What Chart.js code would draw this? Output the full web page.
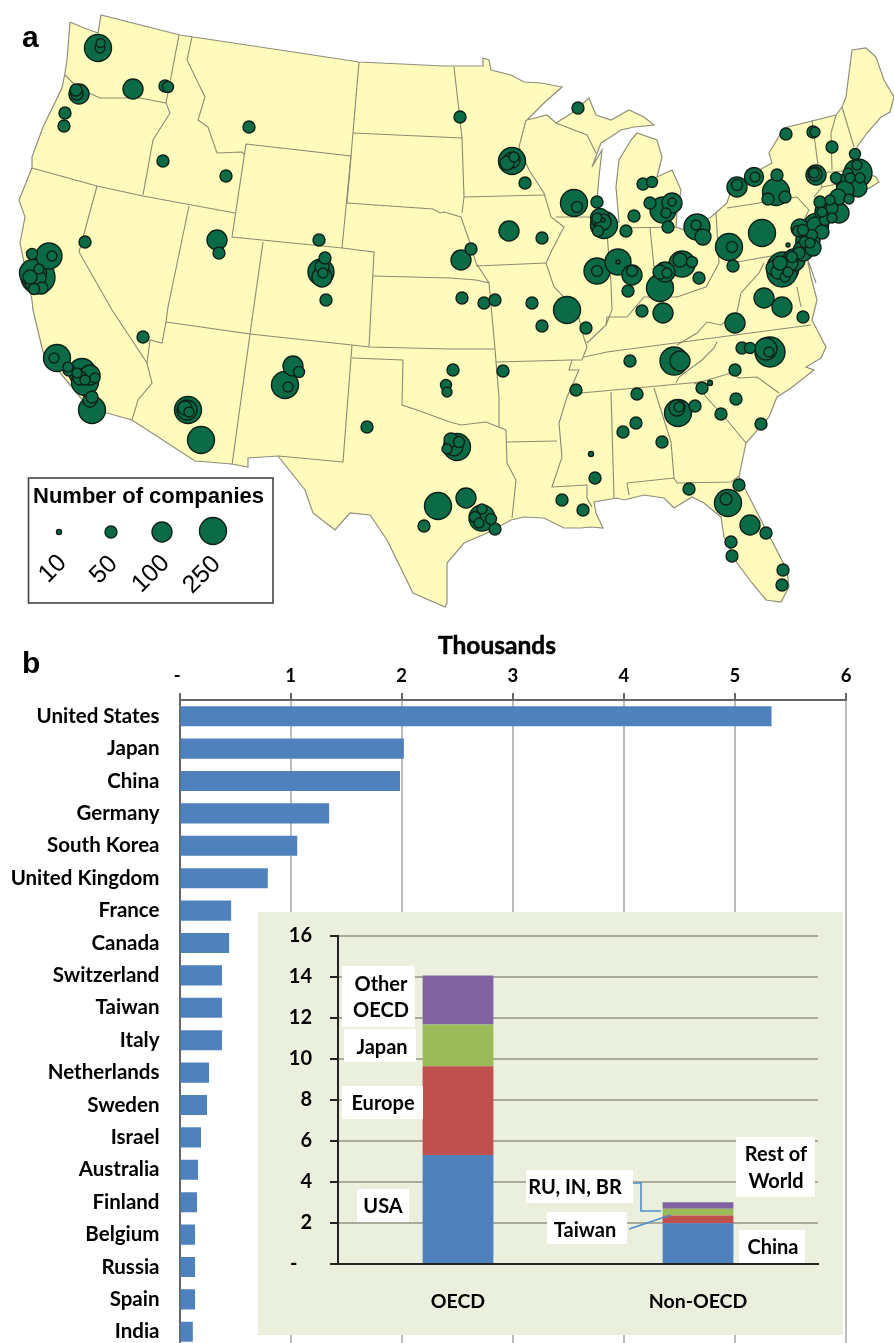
<!DOCTYPE html>
<html><head><meta charset="utf-8">
<script src="https://cdn.jsdelivr.net/npm/chart.js@4"></script>
<style>
html,body{margin:0;padding:0;background:#fff;width:894px;height:1343px;overflow:hidden}
#wrap{position:relative;width:894px;height:1343px;overflow:hidden}
canvas{position:absolute;display:block;filter:blur(0.4px)}
</style></head><body><div id="wrap">
<canvas id="map" width="894" height="620" style="left:0;top:0"></canvas>
<canvas id="bars" width="894" height="740" style="left:0;top:620px"></canvas>
<canvas id="inset" width="585" height="423" style="left:258px;top:912px"></canvas>
</div>
<script>
// ---- panel a: map outline, in map units
const usOutline=[[70,22],[84,28],[98,33],[101,15],[180,35],[300,53],[359,62],[444,66],[483,66],[483,58],[489,60],[491,70],[511,75],[524,82],[541,83],[562,87],[544,103],[527,120],[547,115],[556,123],[572,113],[589,98],[591,103],[596,115],[611,120],[629,110],[644,117],[654,125],[634,127],[621,130],[609,138],[601,143],[592,167],[602,150],[599,177],[597,200],[600,217],[607,226],[619,222],[616,187],[619,160],[631,140],[637,133],[657,140],[662,157],[657,177],[672,170],[681,190],[677,213],[676,227],[685,230],[711,217],[727,203],[731,190],[745,178],[772,163],[769,153],[784,128],[836,115],[842,107],[846,97],[852,50],[866,48],[876,57],[884,80],[894,97],[890,112],[881,117],[867,133],[857,147],[856,157],[861,163],[864,172],[876,177],[879,182],[871,187],[854,197],[831,207],[821,220],[814,240],[807,257],[811,277],[817,300],[812,320],[826,347],[821,358],[806,367],[814,370],[791,388],[777,397],[769,417],[746,443],[741,467],[739,477],[761,520],[787,570],[789,587],[781,602],[766,600],[752,583],[737,563],[724,537],[721,517],[704,503],[692,497],[674,508],[664,498],[644,495],[624,500],[617,498],[594,502],[596,513],[603,528],[591,527],[581,528],[564,528],[544,518],[524,517],[511,520],[487,533],[464,543],[447,563],[447,603],[445,607],[413,593],[387,540],[370,515],[350,513],[335,530],[313,513],[305,490],[278,456],[248,458],[248,467],[232,464],[195,461],[132,420],[107,413],[93,412],[80,397],[43,352],[33,310],[32,300],[20,243],[25,217],[19,200],[32,168],[32,157],[43,127],[62,88],[65,73],[67,60],[70,22]];
const stateLines=[
[[65,75],[78,88],[100,98],[140,98],[166,103]],
[[179,35],[166,103],[170,113],[153,140],[143,195]],
[[192,37],[187,60],[205,97],[198,120],[208,127],[217,153],[242,152],[245,155]],
[[32,168],[97,186],[143,196],[235,213]],
[[97,186],[79,252],[112,310],[147,363],[152,383],[138,400],[132,420]],
[[189,206],[168,307],[166,322],[162,343],[150,340],[147,363]],
[[166,322],[250,334],[232,465]],
[[246,144],[351,156],[342,248],[232,237],[246,144]],
[[263,242],[250,334]],
[[342,248],[374,252],[369,347]],
[[250,334],[352,345],[369,347],[450,349],[495,349]],
[[352,345],[343,462],[278,456]],
[[352,358],[403,360],[402,405],[417,410],[450,422],[461,425],[486,422],[506,430]],
[[373,276],[450,278],[476,280],[489,283],[495,349],[496,362],[499,397],[499,427]],
[[347,203],[433,209],[440,213],[444,212],[461,217],[469,240],[476,263],[489,283]],
[[353,133],[462,138]],
[[359,62],[351,156],[347,203]],
[[454,67],[462,138],[464,197],[462,213]],
[[464,197],[544,195]],
[[526,120],[519,147],[529,170],[544,193],[551,217],[564,227],[552,250],[546,263],[554,287],[577,310],[581,327],[584,338],[587,347],[582,360],[572,360],[569,370],[579,370],[567,397],[559,423],[562,457],[552,487],[587,485],[587,498],[592,507]],
[[476,266],[546,263]],
[[556,217],[599,217]],
[[556,123],[587,135],[596,153]],
[[507,442],[557,441]],
[[506,430],[507,463],[516,480],[512,518]],
[[496,362],[572,360]],
[[607,233],[611,283],[612,310],[606,325]],
[[587,343],[606,325],[607,317],[627,317],[644,297],[677,297],[697,290],[706,287],[719,263],[716,213]],
[[650,228],[654,267]],
[[621,228],[676,227]],
[[727,208],[797,197],[809,210],[797,233],[794,252],[737,262]],
[[812,120],[816,150],[819,173],[822,187],[814,197]],
[[836,115],[831,133],[832,170]],
[[842,107],[854,147]],
[[819,173],[854,170]],
[[822,187],[847,182]],
[[677,345],[697,333],[707,322],[721,325],[737,312],[741,293],[759,273],[764,263]],
[[807,257],[816,283]],
[[797,287],[801,307]],
[[584,357],[607,352],[811,325]],
[[581,393],[701,382]],
[[676,383],[679,377],[702,360],[714,348],[717,342]],
[[694,384],[731,373],[739,378],[757,377],[779,393]],
[[697,382],[706,397],[727,420],[746,443]],
[[611,392],[614,498]],
[[654,388],[671,442],[674,478]],
[[627,483],[674,478],[677,483],[731,482],[739,476]],
[[627,483],[629,495]]
];
// ---- panel a: company clusters [x, y, radius]
const sitesWest=[[98,48,13.5],[100,48,5],[100.7,43,4.5],[79,94,10],[77,94,6],[76,90,6],[133,89,10],[165,86,6],[168,87,5.5],[65,113,6],[64,126,6],[163,161,6],[226,176,6],[249,127,6],[217,240,10],[219,253,6],[85,242,6],[319,240,6],[325,258,6],[321,272,13],[322,277,10],[323,273,5],[322,267,7],[326,300,6],
[49,256,13],[52,256,5],[32,254,5.5],[33,273,13.5],[38,277,17],[39,269,5],[34,289,5.5],[30,277,7],[33,283,8],[42,288,6],[38,278,8],
[143,337,6],[57,358,13.5],[54,358,5],[68,367,5],[69,370,6],[82,372,13.5],[85,382,13.5],[77,373,5],[95,378,5],[85,380,5],[90,375,10],[80,378,7],[92,410,13.5],[92,397,6],[90,400,7],[188,410,13.5],[185,408,7],[189,412,5],[187,410,10],[201,440,13.5],[285,385,13.5],[288,387,5],[293,366,10],[299,372,5.5],[367,427,6],[438,506,13.5],[424,526,6]];
const sitesMidwest=[[460,117,6],[578,108,6],[512,161,13.5],[507,163,7],[514,157,5],[512,160,8],[525,183,6],[574,203,13.5],[577,207,5.5],[597,202,6],[509,231,10],[542,238,6],[471,249,6],[461,260,10],[604,225,13.5],[600,218,9.5],[597,218,5],[603,220,2],[603,222,8],[598,231,5.5],[626,231,6],[634,216,6],[643,184,6],[652,182,5.5],[650,203,6],[663,210,13],[672,203,10],[672,202,4],[666,213,5],[668,227,6],[697,227,13],[696,225,5],[703,237,8],[597,271,13],[597,271,5.5],[618,262,13],[618,262,2],[632,275,10],[632,271,5.5],[628,291,6],[660,288,13.5],[665,272,10],[667,273,5],[660,272,7],[682,264,13],[692,262,5.5],[680,260,7],[699,278,6],[462,298,6],[484,303,6],[495,300,6],[532,303,6],[567,310,13.5],[542,326,6],[586,328,6],[642,311,6],[663,313,10],[453,370,6],[503,371,6],[446,385,5.5],[447,392,5]];
const sitesNortheast=[[737,187,10],[737,185,5.5],[754,177,9.5],[755,177,5],[777,175,6],[776,192,13.5],[768,199,6],[785,197,6],[762,233,13.5],[729,247,13.5],[732,247,5.5],[733,266,6],[786,134,6],[813,132,6],[815,132,5],[832,147,6],[816,175,10],[814,173,5],[815,174,7],
[858,173,14],[845,183,9],[855,154,5.5],[857,165,5],[848,173,5],[860,178,5],[850,178,5],[836,178,5.5],[858,188,9],[845,190,9],[838,197,8],[849,199,5],[830,200,5],[839,213,10],[820,202,6],[822,212,5],[832,208,6],[825,220,5.5],[832,218,5],[815,225,8],[800,228,9],[798,231,5.5],[822,232,7],[812,235,5.5],[803,230,5.5],[805,242,5.5],[813,248,8],[799,253,6],[810,243,5],[792,257,5.5],[788,245,2],[783,268,16],[782,272,15],[785,267,8],[773,268,7],[790,263,8],[778,272,7],[785,277,5],[780,263,7],[788,272,5],
[816,226,12.5],[808,240,12],[826,212,11],[803,251,10],[794,260,11]];
const sitesSouth=[[764,298,10],[782,307,10],[735,323,10],[803,317,6],[576,390,6],[630,361,6],[674,361,14],[680,361,10],[742,348,6],[750,348,5.5],[770,352,15],[766,349,11],[769,352,5],[735,370,6],[702,388,6],[710,383,2.5],[736,399,6],[721,414,6],[761,424,6],[637,394,6],[636,423,6],[623,432,6],[662,442,6],[678,413,13.5],[677,408,8],[679,407,5],[695,406,6],[591,454,2.5],[595,478,6],[562,500,6],[583,510,6],[689,489,6],[739,485,6],[728,503,13.5],[726,499,6],[750,525,10],[766,533,6],[731,542,6],[732,556,6],[783,570,6],[782,585,6],[457,447,13.5],[451,440,7],[459,442,5.5],[447,449,5],[454,447,9],[466,498,10],[482,518,13],[482,509,5],[475,517,5.5],[491,519,5.5],[495,529,6],[479,523,5]];
const legendCompanies=['10','50','100','250'];
const legendSites=[[59,532,2.5],[111,532,6],[162,532,10],[213,531,13.5]];
// ---- panel b
const countries=['United States','Japan','China','Germany','South Korea','United Kingdom','France','Canada','Switzerland','Taiwan','Italy','Netherlands','Sweden','Israel','Australia','Finland','Belgium','Russia','Spain','India'];
const thousands=[5.33,2.02,1.985,1.347,1.06,0.795,0.465,0.447,0.383,0.383,0.383,0.266,0.248,0.194,0.167,0.158,0.14,0.14,0.14,0.12];
// ---- inset
const groups=['OECD','Non-OECD'];
const seriesFirst=[5.32,1.99];   // USA / China
const seriesSecond=[4.33,0.37];  // Europe / Taiwan
const seriesThird=[2.03,0.33];   // Japan / RU, IN, BR
const seriesFourth=[2.39,0.32];  // Other OECD / Rest of World

const BOLD='"Lato", "Liberation Sans", sans-serif';
const GREEN='#0b6b47', RING='#0e2119';
const pts=a=>a.map(p=>({x:p[0],y:p[1]}));
const bub=a=>a.map(p=>({x:p[0],y:p[1],r:p[2]}));
const allSites=[...sitesWest,...sitesMidwest,...sitesNortheast,...sitesSouth].sort((a,b)=>b[2]-a[2]);
const noPad=s=>{s.paddingTop=0;s.paddingBottom=0;s.paddingLeft=0;s.paddingRight=0;};

const mapText={id:'mapText',afterDraw(c){const g=c.ctx;g.save();
 g.fillStyle='#000';g.textBaseline='alphabetic';
 g.font='bold 30px "Liberation Sans"';g.fillText('a',22,47);
 g.strokeStyle='#444';g.lineWidth=1.6;g.strokeRect(28.5,478,244.5,125);
 g.font='bold 22px "Liberation Sans"';g.fillStyle='#000';g.fillText('Number of companies',33,503);
 g.font='25px "Liberation Sans"';g.textAlign='center';g.textBaseline='middle';
 const at=[[53,569],[104,570],[151,574],[202,575]];
 legendCompanies.forEach((t,i)=>{g.save();g.translate(at[i][0],at[i][1]);g.rotate(-Math.PI/4);g.fillText(t,0,0);g.restore();});
 g.restore();}};

new Chart(document.getElementById('map'),{
 data:{datasets:[
  {type:'bubble',data:bub(allSites),backgroundColor:GREEN,borderColor:RING,borderWidth:1.4,order:0,clip:false},
  {type:'bubble',data:bub(legendSites),backgroundColor:GREEN,borderColor:RING,borderWidth:1.4,order:0,clip:false},
  ...stateLines.map(l=>({type:'scatter',showLine:true,data:pts(l),borderColor:'#8b8b72',borderWidth:1.1,pointRadius:0,fill:false,tension:0,order:1})),
  {type:'scatter',showLine:true,data:pts(usOutline),borderColor:'#8f8f7c',borderWidth:1.2,backgroundColor:'#fffbbc',pointRadius:0,fill:'shape',tension:0,order:2}
 ]},
 options:{responsive:false,animation:false,devicePixelRatio:1,layout:{autoPadding:false,padding:0},
  plugins:{legend:{display:false},tooltip:{enabled:false}},
  scales:{x:{type:'linear',min:0,max:894,display:false},y:{type:'linear',min:0,max:620,reverse:true,display:false}}},
 plugins:[mapText]
});

const barText={id:'barText',afterDraw(c){const g=c.ctx;g.save();g.fillStyle='#000';g.font='bold 30px "Liberation Sans"';g.fillText('b',22,53);
 g.font='bold 24.5px '+BOLD;g.textAlign='center';g.textBaseline='middle';g.strokeStyle='#000';g.lineWidth=0.5;
 g.fillText('Thousands',497,26);g.strokeText('Thousands',497,26);g.restore();}};
new Chart(document.getElementById('bars'),{
 type:'bar',
 data:{labels:countries,datasets:[{data:thousands,backgroundColor:'#4f81bd',barPercentage:0.62,categoryPercentage:1}]},
 options:{indexAxis:'y',responsive:false,animation:false,devicePixelRatio:1,layout:{autoPadding:false,padding:{bottom:12,right:48}},
  plugins:{legend:{display:false},tooltip:{enabled:false}},
  scales:{
   x:{position:'top',min:0,max:6,afterFit(s){s.height=80;noPad(s);},
    ticks:{stepSize:1,autoSkip:false,maxRotation:0,padding:6,color:'#000',font:{family:BOLD,weight:'bold',size:18.5},callback:v=>v===0?'-\u00a0':v},
    grid:{color:'#bdbdbd',lineWidth:2,tickColor:'#666',tickLength:7},border:{color:'#666',width:2}},
   y:{afterFit(s){s.width=179.5;noPad(s);},
    ticks:{autoSkip:false,padding:20,color:'#000',font:{family:BOLD,weight:'bold',size:20.5}},
    grid:{display:false,drawTicks:false},border:{color:'#666',width:2}}}},
 plugins:[barText]
});

const insetLabels={id:'insetLabels',beforeDraw(c){const g=c.ctx;g.save();g.fillStyle='#ebf0de';g.fillRect(0,0,c.width,c.height);g.restore();},
 afterDatasetsDraw(c){const g=c.ctx;g.save();
 const O=(x,y)=>[x-258,y-912];
 const boxes=[[342,966,73,61,['Other','OECD'],[985,1011],381],[344,1029,72,33,['Japan'],[1048],382],[342,1086,81,33,['Europe'],[1104],383],[357,1189,52,33,['USA'],[1207],383],[526,1170,107,33,['RU, IN, BR'],[1188],575],[547,1212,80,32,['Taiwan'],[1231],585],[736,1137,79,60,['Rest of','World'],[1155,1182],776],[739,1230,66,33,['China'],[1248],773]];
 g.font='bold 20px '+BOLD;g.textAlign='center';g.textBaseline='middle';
 boxes.forEach(b=>{const p=O(b[0],b[1]);g.fillStyle='#fff';g.fillRect(p[0],p[1],b[2],b[3]);g.fillStyle='#000';b[4].forEach((t,i)=>{g.fillText(t,b[6]-258,b[5][i]-912);});});
 g.strokeStyle='#4f8fc8';g.lineWidth=1.6;
 g.beginPath();let p=[[633,1183],[641,1183],[641,1211],[661,1211]].map(q=>O(q[0],q[1]));g.moveTo(...p[0]);p.slice(1).forEach(q=>g.lineTo(...q));g.stroke();
 g.beginPath();g.moveTo(...O(629,1229));g.lineTo(...O(671,1215));g.stroke();
 g.restore();}};
new Chart(document.getElementById('inset'),{
 type:'bar',
 data:{labels:groups,datasets:[
  {label:'USA / China',data:seriesFirst,backgroundColor:'#4f81bd'},
  {label:'Europe / Taiwan',data:seriesSecond,backgroundColor:'#c0504d'},
  {label:'Japan / RU, IN, BR',data:seriesThird,backgroundColor:'#9bbb59'},
  {label:'Other OECD / Rest of World',data:seriesFourth,backgroundColor:'#8064a2'}
 ].map(d=>({...d,barPercentage:0.295,categoryPercentage:1}))},
 options:{responsive:false,animation:false,devicePixelRatio:1,layout:{autoPadding:false,padding:{top:24,right:25}},
  plugins:{legend:{display:false},tooltip:{enabled:false}},
  scales:{
   x:{stacked:true,afterFit(s){s.height=71;noPad(s);},ticks:{padding:26,color:'#000',font:{family:BOLD,weight:'bold',size:19.5},maxRotation:0},grid:{display:false,drawTicks:false},border:{color:'#222',width:2}},
   y:{stacked:true,min:0,max:16,afterFit(s){s.width=80;noPad(s);},
    ticks:{stepSize:2,padding:18,color:'#000',font:{family:BOLD,weight:'bold',size:20},callback:v=>v===0?'-\u00a0\u00a0\u00a0':v},
    grid:{color:'#a9ab9a',lineWidth:2,tickColor:'#222',tickLength:8},border:{color:'#222',width:2}}}},
 plugins:[insetLabels]
});
</script></body></html>
